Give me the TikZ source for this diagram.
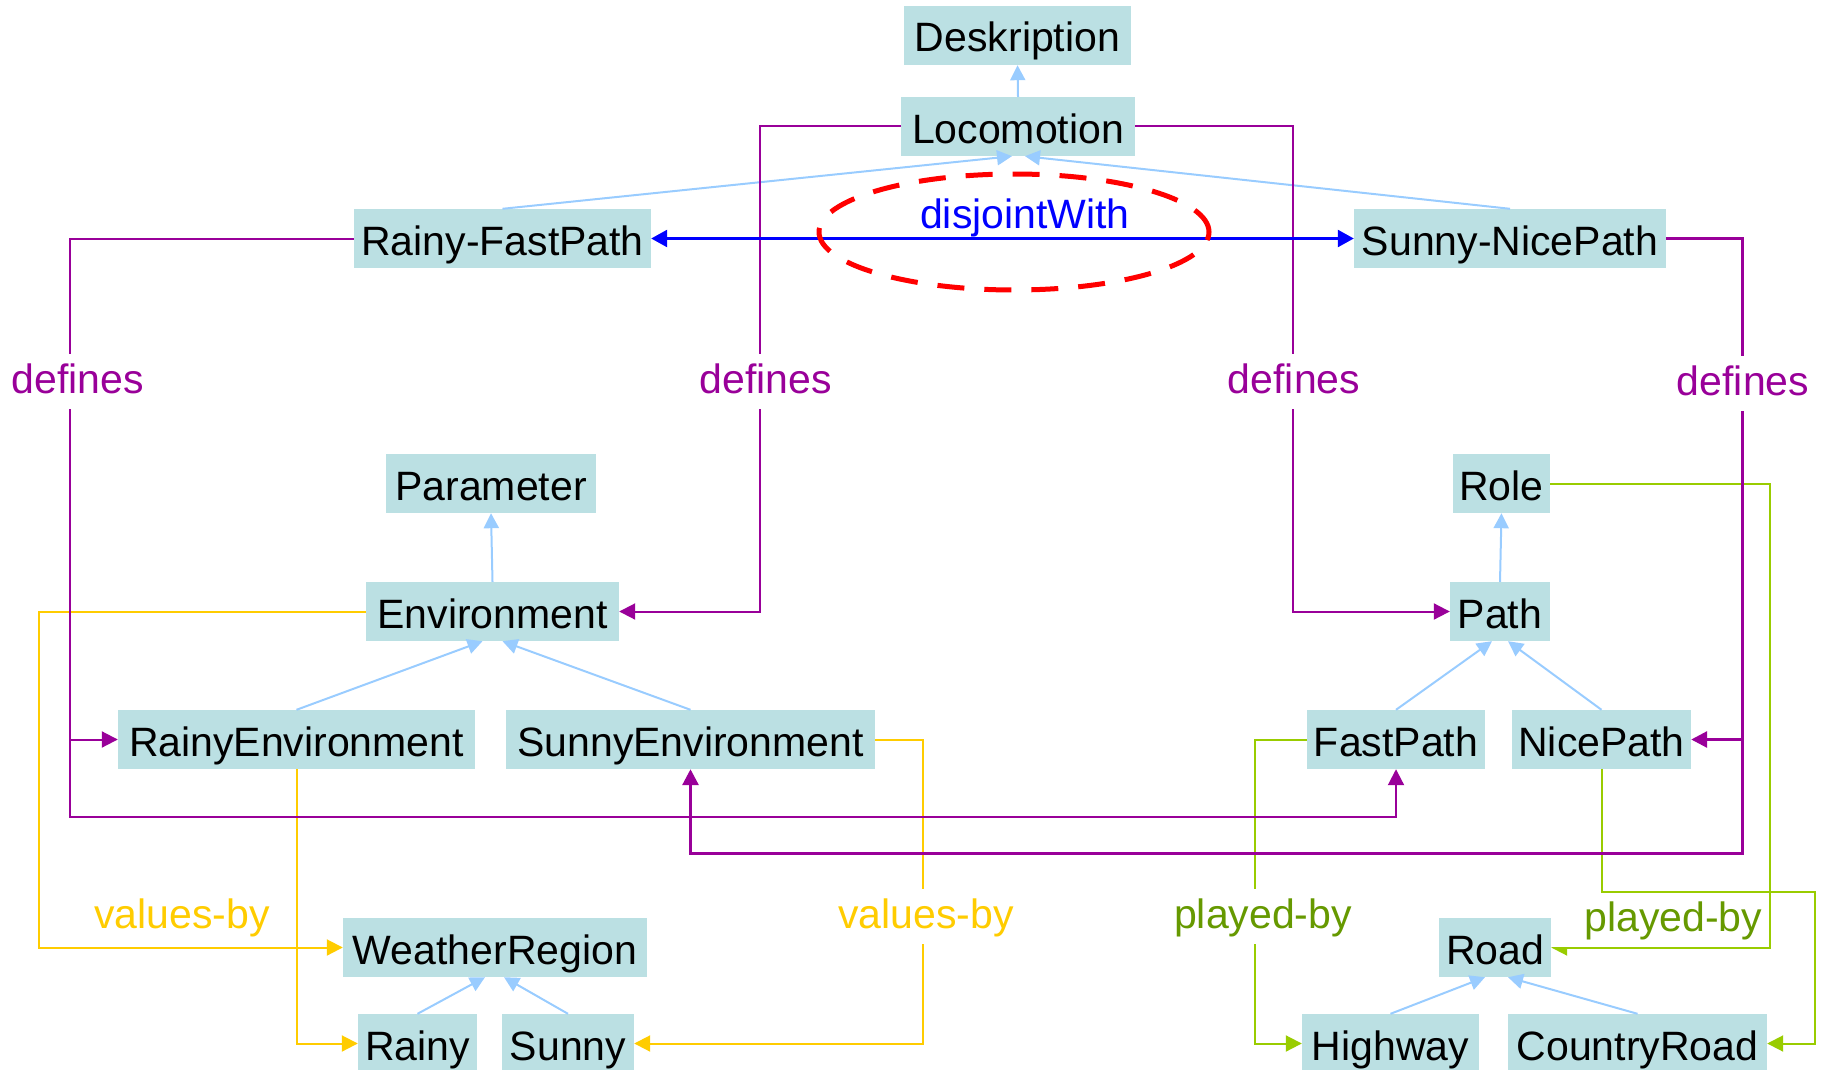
\documentclass[tikz,border=0pt]{standalone}
\usepackage{fontspec}
\setmainfont{Liberation Sans}
\usetikzlibrary{arrows.meta}
\definecolor{boxfill}{RGB}{187,224,227}
\definecolor{subc}{RGB}{153,204,255}
\definecolor{defc}{RGB}{153,0,153}
\definecolor{valc}{RGB}{255,204,0}
\definecolor{playc}{RGB}{153,204,0}
\definecolor{playt}{RGB}{102,153,0}
\definecolor{djc}{RGB}{0,0,255}
\begin{document}
\begin{tikzpicture}[x=1pt,y=-1pt,
  cls/.style={fill=boxfill, inner sep=0pt, minimum height=59pt,
    text height=40pt, text depth=7pt, font=\fontsize{41pt}{49pt}\selectfont},
  lbl/.style={font=\fontsize{41pt}{49pt}\selectfont, inner xsep=4pt, inner ysep=6pt,
    text height=33pt, text depth=10pt, anchor=base},
  tip/.style={-{Triangle[length=16pt,width=16pt]}},
  subarrow/.style={draw=subc, line width=2pt, -{Triangle[length=15pt,width=15pt]}},
  defline/.style={draw=defc, line width=2pt},
  valline/.style={draw=valc, line width=2pt},
  playline/.style={draw=playc, line width=2pt}
]
\useasboundingbox (0,0) rectangle (1828,1070);

% ---- class boxes
\node[cls, minimum width=227pt] (desk) at (1017.5,35.5) {Deskription};
\node[cls, minimum width=234pt] (loc) at (1018,126.5) {Locomotion};
\node[cls, minimum width=297pt] (rfp) at (502.5,238.5) {Rainy-FastPath};
\node[cls, minimum width=312pt] (snp) at (1510,238.5) {Sunny-NicePath};
\node[cls, minimum width=210pt] (param) at (491,483.5) {Parameter};
\node[cls, minimum width=97pt] (role) at (1501.5,483.5) {Role};
\node[cls, minimum width=253pt] (env) at (492.5,611.5) {Environment};
\node[cls, minimum width=100pt] (path) at (1500,611.5) {Path};
\node[cls, minimum width=357pt] (renv) at (296.5,739.5) {RainyEnvironment};
\node[cls, minimum width=369pt] (senv) at (690.5,739.5) {SunnyEnvironment};
\node[cls, minimum width=178pt] (fast) at (1396,739.5) {FastPath};
\node[cls, minimum width=179pt] (nice) at (1601.5,739.5) {NicePath};
\node[cls, minimum width=304pt] (wr) at (495,947.5) {WeatherRegion};
\node[cls, minimum width=112pt] (road) at (1495,947.5) {Road};
\node[cls, minimum width=119pt] (rainy) at (417.5,1043.5) {Rainy};
\node[cls, minimum width=132pt] (sunny) at (568,1043.5) {Sunny};
\node[cls, minimum width=177pt] (hw) at (1390.5,1043.5) {Highway};
\node[cls, minimum width=259pt] (cr) at (1637.5,1043.5) {CountryRoad};

% ---- subclass edges
\draw[subarrow] (loc.north) -- (desk.south);
\draw[subarrow] (rfp.north) -- ([xshift=-6pt]loc.south);
\draw[subarrow] (snp.north) -- ([xshift=7pt]loc.south);
\draw[subarrow] (env.north) -- (param.south);
\draw[subarrow] (renv.north) -- ([xshift=-10pt]env.south);
\draw[subarrow] (senv.north) -- ([xshift=10pt]env.south);
\draw[subarrow] (path.north) -- (role.south);
\draw[subarrow] (fast.north) -- ([xshift=-8pt]path.south);
\draw[subarrow] (nice.north) -- ([xshift=8pt]path.south);
\draw[subarrow] (rainy.north) -- ([xshift=-10pt]wr.south);
\draw[subarrow] (sunny.north) -- ([xshift=9pt]wr.south);
\draw[subarrow] (hw.north) -- ([xshift=-10pt]road.south);
\draw[subarrow] (cr.north) -- ([xshift=13pt]road.south);

% ---- corner coordinates
\coordinate (dA) at (760,380);
\coordinate (dB) at (1293,380);
\coordinate (cA) at (70,817);
\coordinate (cB) at (1742,853);
\coordinate (cC) at (39,947.5);
\coordinate (cD) at (923,900);
\coordinate (cE) at (1255,900);
\coordinate (cF) at (1815,892);
\coordinate (cG) at (1770,947.5);
\coordinate (ell) at (1014,232);

% ---- values-by (yellow)
\draw[valline, tip] (env.west) -| (cC) -- (wr.west);
\draw[valline, tip] (renv.south) |- (rainy.west);
\draw[valline, tip] (senv.east) -| (cD) |- (sunny.east);

% ---- played-by (green)
\draw[playline, tip] (fast.west) -| (cE) |- (hw.west);
\draw[playline, tip] (nice.south) |- (cF) |- (cr.east);
\draw[playline, tip] (role.east) -| (cG) -- (road.east);

% ---- defines (purple)
\draw[defline, tip] (loc.west) -| (dA) |- (env.east);
\draw[defline, tip] (loc.east) -| (dB) |- (path.west);
\draw[defline, tip] (rfp.west) -| (cA) -| (fast.south);
\draw[defline, tip] (renv.west -| cA) -- (renv.west);
\draw[defline, line width=3pt, tip] (snp.east) -| (cB) -| (senv.south);
\draw[defline, line width=3pt, tip] (nice.east -| cB) -- (nice.east);

% ---- disjointWith
\draw[draw=djc, line width=2.5pt, {Triangle[length=16pt,width=17pt]}-{Triangle[length=16pt,width=17pt]}] (rfp.east) -- (snp.west);
\draw[red, line width=5pt, dash pattern=on 27pt off 20pt] (ell) ellipse [x radius=195pt, y radius=58pt];
\node[lbl, text=djc] (dj) at (1025,228) {disjointWith};

% ---- labels
\node[lbl, text=defc, fill=white] (l1) at (78,393) {defines};
\node[lbl, text=defc, fill=white] (l2) at (766,393) {defines};
\node[lbl, text=defc, fill=white] (l3) at (1294,393) {defines};
\node[lbl, text=defc, fill=white] (l4) at (1743,395) {defines};
\node[lbl, text=valc] (l5) at (182,928) {values-by};
\node[lbl, text=valc, fill=white] (l6) at (926,928) {values-by};
\node[lbl, text=playt, fill=white] (l7) at (1263,928) {played-by};
\node[font=\fontsize{41pt}{49pt}\selectfont, text=playt, fill=white, inner xsep=5pt, inner ysep=5pt,
  text height=33pt, text depth=10pt, text width=206pt, align=right, anchor=south west] (l8) at (1551,947) {played-by};
\end{tikzpicture}
\end{document}
